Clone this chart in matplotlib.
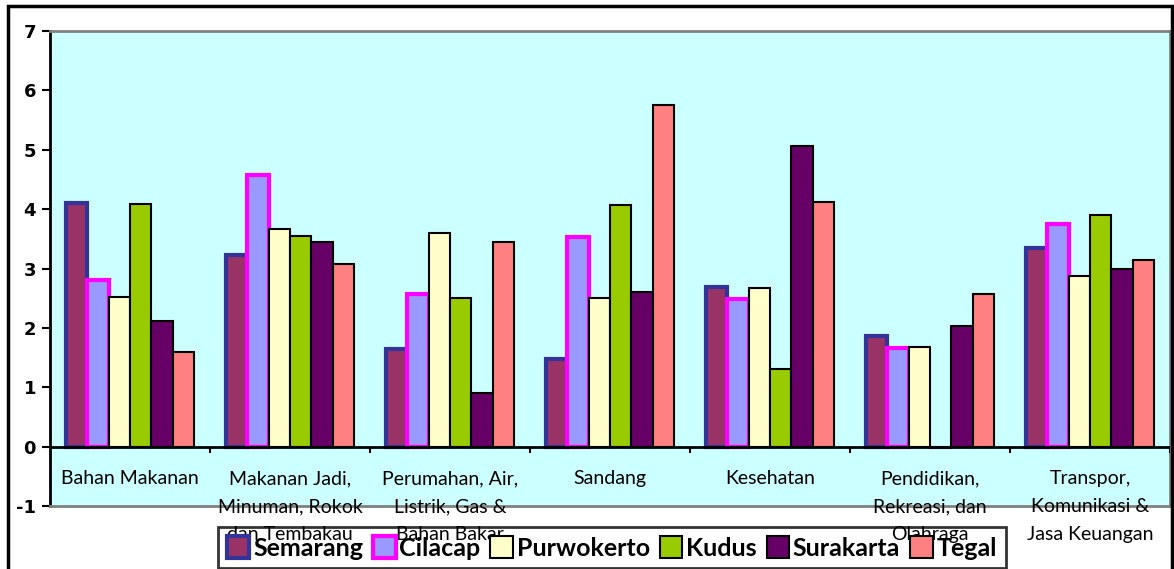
import matplotlib
matplotlib.use("Agg")
import matplotlib.pyplot as plt
from matplotlib.patches import Patch, Rectangle
import numpy as np

plt.rcParams["font.family"] = ["Lato", "DejaVu Sans"]

categories = [
    "Bahan Makanan",
    "Makanan Jadi,\nMinuman, Rokok\ndan Tembakau",
    "Perumahan, Air,\nListrik, Gas &\nBahan Bakar",
    "Sandang",
    "Kesehatan",
    "Pendidikan,\nRekreasi, dan\nOlahraga",
    "Transpor,\nKomunikasi &\nJasa Keuangan",
]
cities = ["Semarang", "Cilacap", "Purwokerto", "Kudus", "Surakarta", "Tegal"]

semarang   = [4.10, 3.22, 1.65, 1.47, 2.69, 1.86, 3.34]
cilacap    = [2.81, 4.57, 2.57, 3.53, 2.48, 1.66, 3.75]
purwokerto = [2.52, 3.67, 3.60, 2.51, 2.68, 1.67, 2.87]
kudus      = [4.08, 3.54, 2.51, 4.07, 1.30, -0.02, 3.90]
surakarta  = [2.12, 3.45, 0.90, 2.60, 5.06, 2.04, 3.00]
tegal      = [1.60, 3.08, 3.45, 5.75, 4.12, 2.57, 3.15]
series = [semarang, cilacap, purwokerto, kudus, surakarta, tegal]

fills = ["#993366", "#9999FF", "#FFFFCC", "#99CC00", "#660066", "#FF8080"]
edges = ["#333399", "#FF00FF", "black", "black", "black", "black"]
lws = [3.0, 3.0, 1.5, 1.5, 1.5, 1.5]

W, H = 1174, 569
fig = plt.figure(figsize=(W / 100, H / 100), dpi=100, facecolor="white")
ax = fig.add_axes([50 / W, 1 - 506 / H, 1120 / W, 475 / H], facecolor="#CCFFFF")

x = np.arange(len(categories)) + 0.5
bw = 0.8 / len(cities)
for i, vals in enumerate(series):
    ax.bar(x + (i - 2.5) * bw, vals, bw, color=fills[i], edgecolor=edges[i],
           linewidth=lws[i], zorder=3)

ax.set_xlim(0, len(categories))
ax.set_ylim(-1, 7)
ax.set_xticks([])
ax.set_yticks(range(-1, 8))
ax.set_yticklabels([str(v) for v in range(-1, 8)], fontsize=13,
                   fontweight="bold", family="DejaVu Sans")
ax.tick_params(axis="y", direction="out", length=6, width=1.5, pad=4)

# zero line with category ticks
ax.axhline(0, color="black", lw=2, zorder=4)
ax.vlines(np.arange(1, len(categories) + 1), -0.1, 0, color="black", lw=1.5, zorder=4)

for sp in ["top", "right", "bottom"]:
    ax.spines[sp].set_color("#808080")
    ax.spines[sp].set_linewidth(2)
ax.spines["left"].set_color("black")
ax.spines["left"].set_linewidth(2)

for xi, lab in zip(x, categories):
    ax.text(xi, -0.4, lab, ha="center", va="top", fontsize=14,
            linespacing=1.78, zorder=5, clip_on=False)

handles = [Patch(facecolor=f, edgecolor=e, linewidth=lw)
           for f, e, lw in zip(fills, edges, lws)]
leg = fig.legend(handles, cities, loc="upper left",
                 bbox_to_anchor=(218 / W, 1 - 527 / H), bbox_transform=fig.transFigure,
                 ncol=6, fancybox=False, edgecolor="black", facecolor="none",
                 prop={"weight": "bold", "size": 18},
                 handlelength=0.9, handleheight=1.0, handletextpad=0.15,
                 columnspacing=0.4, borderpad=0.35, borderaxespad=0)
leg.get_frame().set_linewidth(2)

fig.patches.append(Rectangle((8 / W, -0.05), 1164 / W, 1.05 - 6 / H,
                             transform=fig.transFigure, fill=False,
                             edgecolor="black", linewidth=2.5))

fig.savefig("out.png", dpi=100)
